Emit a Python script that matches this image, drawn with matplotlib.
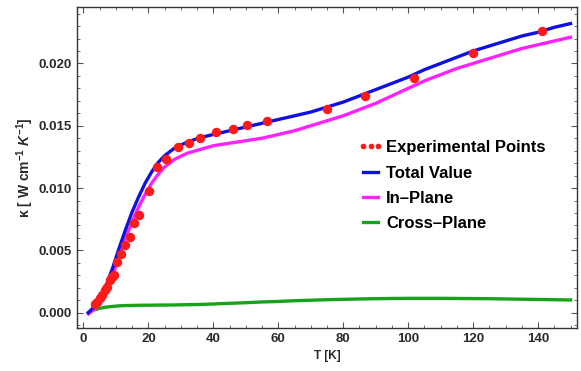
import numpy as np
import matplotlib
matplotlib.use("Agg")
import matplotlib.pyplot as plt
from matplotlib.ticker import MultipleLocator

plt.rcParams["font.family"] = ["Liberation Sans", "DejaVu Sans"]
plt.rcParams["font.weight"] = "bold"
plt.rcParams["mathtext.fontset"] = "custom"
plt.rcParams["mathtext.rm"] = "Liberation Sans:bold"
plt.rcParams["mathtext.it"] = "Liberation Sans:bold:italic"
plt.rcParams["mathtext.bf"] = "Liberation Sans:bold"

# =========================
# data
# =========================
exp_T = [3.5, 4.2, 5.0, 5.7, 6.6, 7.3, 8.1, 8.8, 9.3, 10.4, 11.4, 12.8, 14.3,
         15.5, 17.1, 20.1, 22.7, 25.4, 29.1, 32.4, 36.0, 40.9, 46.2, 50.5,
         56.5, 75.0, 86.8, 101.8, 119.9, 141.1]
exp_k = [0.0007, 0.00088, 0.00115, 0.00142, 0.00182, 0.00209, 0.00262,
         0.00289, 0.00302, 0.00404, 0.00469, 0.00543, 0.0061, 0.00717,
         0.00784, 0.00979, 0.01167, 0.01236, 0.01327, 0.01365, 0.0140,
         0.01447, 0.01477, 0.01509, 0.01539, 0.01635, 0.01742, 0.01884,
         0.02087, 0.02263]

curve_T = [1.5, 3, 5, 7, 9, 11, 13, 15, 17, 19, 21, 23, 25, 28, 32, 36, 40,
           45, 50, 55, 60, 65, 70, 75, 80, 85, 90, 95, 100, 105, 110, 115,
           120, 125, 130, 135, 140, 145, 150]
total_k = [0.0, 0.0004, 0.0011, 0.0022, 0.0036, 0.0052, 0.0067, 0.0081,
           0.0093, 0.0104, 0.0113, 0.01205, 0.0126, 0.0132, 0.0137, 0.01405,
           0.0143, 0.0146, 0.0149, 0.0152, 0.0155, 0.0158, 0.0161, 0.0165,
           0.0169, 0.0174, 0.0179, 0.0184, 0.0189, 0.0195, 0.0200, 0.0205,
           0.0210, 0.0214, 0.0218, 0.0222, 0.0225, 0.0229, 0.0232]
inplane_k = [-0.0001, 0.0002, 0.0007, 0.0017, 0.0030, 0.0045, 0.0060, 0.0073,
             0.0085, 0.0095, 0.0104, 0.0111, 0.0117, 0.0123, 0.0128, 0.0131,
             0.0134, 0.0136, 0.0138, 0.0140, 0.0143, 0.0146, 0.0150, 0.0154,
             0.0158, 0.0163, 0.0168, 0.0174, 0.0180, 0.0186, 0.0191, 0.0196,
             0.0200, 0.0204, 0.0208, 0.0212, 0.0215, 0.0218, 0.0221]
cross_k = [0.0, 0.0002, 0.00035, 0.00045, 0.0005, 0.00055, 0.00057, 0.00058,
           0.00059, 0.0006, 0.0006, 0.00061, 0.00061, 0.00062, 0.00064,
           0.00066, 0.0007, 0.00075, 0.0008, 0.00086, 0.0009, 0.00096,
           0.001, 0.00104, 0.00107, 0.0011, 0.00112, 0.00114, 0.00115,
           0.00115, 0.00115, 0.00114, 0.00113, 0.00112, 0.0011, 0.00108,
           0.00106, 0.00104, 0.00102]

# =========================
# plot
# =========================
fig = plt.figure(figsize=(5.81, 3.71), dpi=100)
ax = fig.add_axes([77 / 581, 1 - 328 / 371, 500 / 581, 321 / 371])

ax.plot(curve_T, cross_k, color="#1aa31a", lw=2.4, label="Cross\u2013Plane", zorder=2)
ax.plot(curve_T, inplane_k, color="#ff22ff", lw=2.4, label="In\u2013Plane", zorder=3)
ax.plot(curve_T, total_k, color="#1010e0", lw=2.4, label="Total Value", zorder=4)
ax.plot(exp_T, exp_k, "o", color="#ff1a1a", ms=6.8, mec="none",
        label="Experimental Points", zorder=5)

ax.set_xlim(-2, 152)
ax.set_ylim(-0.00123, 0.02453)

ax.xaxis.set_major_locator(MultipleLocator(20))
ax.xaxis.set_minor_locator(MultipleLocator(5))
ax.yaxis.set_major_locator(MultipleLocator(0.005))
ax.yaxis.set_minor_locator(MultipleLocator(0.001))
ax.yaxis.set_major_formatter(plt.FuncFormatter(lambda v, p: f"{v:.3f}"))

ax.tick_params(which="both", direction="in", top=True, right=True,
               labelsize=9.5, labelcolor="#2a2a2a", color="#555555")
ax.tick_params(which="major", length=4.5, width=0.8)
ax.tick_params(which="minor", length=2.5, width=0.6)
for s in ax.spines.values():
    s.set_color("#333333")
    s.set_linewidth(1.0)

ax.set_xlabel("T [K]", fontsize=8.5, fontweight="bold", color="#2a2a2a",
              labelpad=4)
ax.set_ylabel("\u03ba [ W cm$^{-1}$ $K^{-1}$]", fontsize=10,
              fontweight="bold", color="#2a2a2a", labelpad=2)

handles, labels = ax.get_legend_handles_labels()
order = [3, 2, 1, 0]
ax.legend([handles[i] for i in order], [labels[i] for i in order],
          loc="upper left", bbox_to_anchor=(0.562, 0.585), frameon=False,
          fontsize=12, handlelength=1.5, handletextpad=0.2,
          labelspacing=0.62, numpoints=3, markerscale=0.6,
          borderaxespad=0, borderpad=0)

plt.savefig("out.png", dpi=100)
plt.close()
